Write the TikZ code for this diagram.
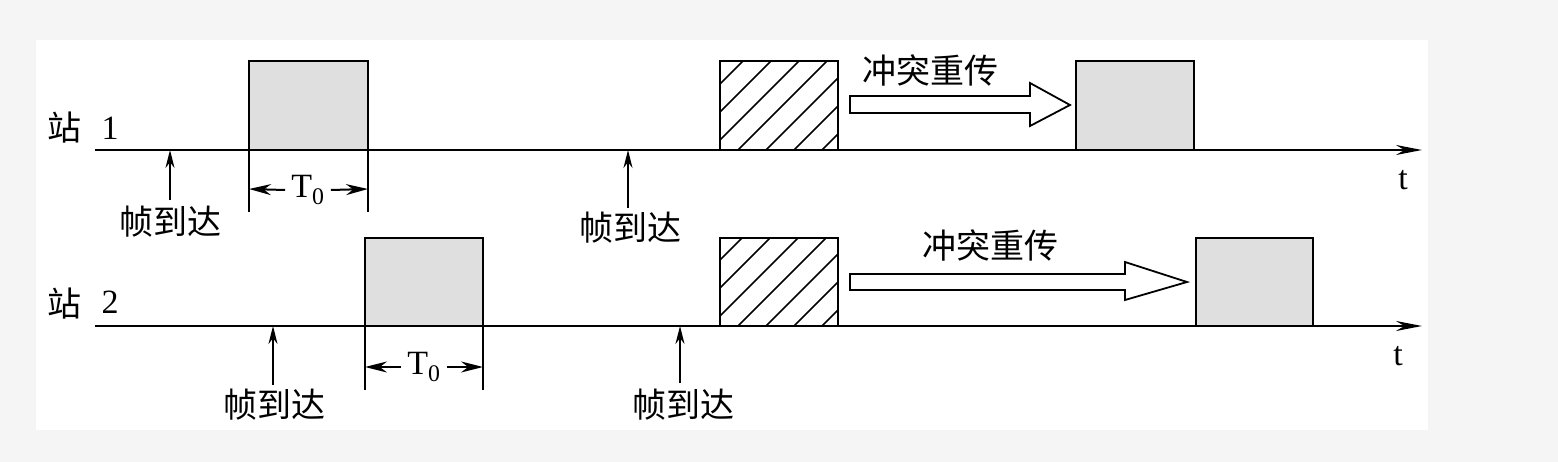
\documentclass[tikz,border=0pt]{standalone}
\usepackage{fontspec}
\setmainfont{Liberation Serif}
\newfontfamily\cjk{Noto Sans CJK SC}
\usetikzlibrary{arrows.meta}
\tikzset{
 axis/.style={line width=2.6pt,-{Stealth[length=26pt,width=10pt]}},
 frame/.style={draw,line width=2pt,fill=gray!25},
 hbox/.style={draw,line width=2pt},
 up/.style={line width=2pt,-{Stealth[length=18pt,width=9pt]}},
 half/.style={line width=2pt,-{Stealth[length=22pt,width=11pt]}},
 tick/.style={line width=2pt},
 lab/.style={font=\cjk\fontsize{34}{38}\selectfont,inner sep=0pt},
 num/.style={font=\fontsize{34}{38}\selectfont,inner sep=0pt},
 fat/.style={draw,line width=1.8pt,fill=white}
}
\begin{document}
\begin{tikzpicture}[x=1pt,y=-1pt]
\fill[black!4] (0,0) rectangle (1558,462);
\fill[white] (36,40) rectangle (1428,430);
\useasboundingbox (0,0) rectangle (1558,462);
% axes
\coordinate (a1s) at (95,150); \coordinate (a1e) at (1422,150);
\coordinate (a2s) at (95,326); \coordinate (a2e) at (1422,326);
\draw[axis] (a1s) -- (a1e);
\draw[axis] (a2s) -- (a2e);
\node[lab] (s1) at (64,128) {站};
\node[num] (n1) at (110,128) {1};
\node[lab] (s2) at (64,304) {站};
\node[num] (n2) at (110,302) {2};
\node[num] (t1) at (1403,180) {t};
\node[num] (t2) at (1398,356) {t};
% station 1
\draw[frame] (249,61) rectangle (368,150);
\draw[tick] (249,150)--(249,212); \draw[tick] (368,150)--(368,212);
\node[num,inner xsep=6pt] (T1) at (308,190) {T\textsubscript{0}};
\coordinate (L1) at (249,189); \coordinate (R1) at (368,189);
\draw[half] (T1.east) -- (R1);
\draw[half] (T1.west) -- (L1);
\node[lab] (f1) at (170,222) {帧到达};
\coordinate (p1) at (170,150); \draw[up] (170,200) -- (p1);
\node[lab] (f2) at (630,228) {帧到达};
\coordinate (p2) at (628,150); \draw[up] (628,208) -- (p2);
\begin{scope}
\clip (720,61) rectangle (838,150);
\foreach \k in {-4,...,8} \draw[line width=1.6pt] (700+28*\k,160) -- (700+28*\k+110,50);
\end{scope}
\draw[hbox] (720,61) rectangle (838,150);
\draw[fat] (850,96) -- (1030,96) -- (1030,83) -- (1070,105) -- (1030,126) -- (1030,113) -- (850,113) -- cycle;
\node[lab] (c1) at (930,70) {冲突重传};
\draw[frame] (1076,61) rectangle (1194,150);
% station 2
\draw[frame] (365,238) rectangle (483,326);
\draw[tick] (365,326)--(365,390); \draw[tick] (483,326)--(483,390);
\node[num,inner xsep=6pt] (T2) at (424,367) {T\textsubscript{0}};
\coordinate (L2) at (365,367); \coordinate (R2) at (483,367);
\draw[half] (T2.east) -- (R2);
\draw[half] (T2.west) -- (L2);
\node[lab] (f3) at (274,405) {帧到达};
\coordinate (p3) at (273,326); \draw[up] (273,385) -- (p3);
\node[lab] (f4) at (683,405) {帧到达};
\coordinate (p4) at (680,326); \draw[up] (680,383) -- (p4);
\begin{scope}
\clip (720,238) rectangle (838,326);
\foreach \k in {-4,...,8} \draw[line width=1.6pt] (700+28*\k,336) -- (700+28*\k+110,226);
\end{scope}
\draw[hbox] (720,238) rectangle (838,326);
\draw[fat] (850,274) -- (1125,274) -- (1125,262) -- (1187,282) -- (1125,300) -- (1125,290) -- (850,290) -- cycle;
\node[lab] (c2) at (990,245) {冲突重传};
\draw[frame] (1196,238) rectangle (1313,326);
\end{tikzpicture}
\end{document}
